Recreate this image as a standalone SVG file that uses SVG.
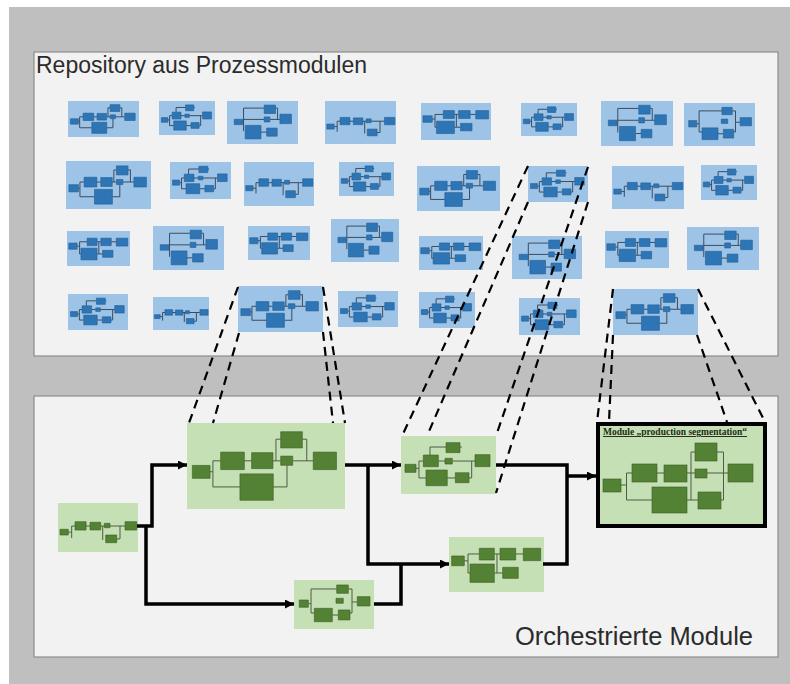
<svg xmlns="http://www.w3.org/2000/svg" xmlns:xlink="http://www.w3.org/1999/xlink" width="790" height="684" viewBox="0 0 790 684">
  <style>
    .frame { fill: #bfbfbf; }
    .panel { fill: #f2f2f2; stroke: #8c8c8c; stroke-width: 1.2; }
    .thumb { fill: #9dc3e6; }
    .gnode { fill: #c5e0b4; }
    .blue { --bx: #2e75b6; --bs: #245e94; --ln: #3e4c5e; }
    .green { --bx: #548235; --bs: #3a5c24; --ln: #4f5c47; }
    .b { fill: var(--bx); stroke: var(--bs); stroke-width: 0.6; vector-effect: non-scaling-stroke; }
    .l { fill: none; stroke: var(--ln); stroke-width: 1; vector-effect: non-scaling-stroke; }
    .gb { fill: #548235; stroke: #3a5c24; stroke-width: 0.6; }
    .gl { fill: none; stroke: #4f5c47; stroke-width: 1; }
    .conn { fill: none; stroke: #000; stroke-width: 3.5; stroke-linejoin: miter; }
    .dash { fill: none; stroke: #000; stroke-width: 2.2; stroke-dasharray: 9 6; }
    .title { font-family: "Liberation Sans", Arial, sans-serif; fill: #2b2b2b; }
    .lbl { font-family: "Liberation Serif", "Times New Roman", serif; font-weight: bold; font-size: 9.5px; fill: #1e2a14; text-decoration: underline; }
  </style>
  <defs>
    <marker id="ah" viewBox="0 0 10 10" refX="10" refY="5" markerWidth="10" markerHeight="9" markerUnits="userSpaceOnUse" orient="auto">
      <path d="M0 0L10 5L0 10z" fill="#000"/>
    </marker>
    <!-- process module layouts, drawn in a 100x60 frame -->
    <symbol id="pB" viewBox="0 0 100 60" preserveAspectRatio="none">
      <path class="l" d="M14.6 34H16.4M16.4 26.4V44.6M16.4 26.4H21.3M16.4 44.6H33.5M36.3 26.4H40.9M54.4 26.4H59.3M66.9 26.4H79.9M56.3 11.3V26.4M56.3 11.3H59.3M73 11.3H75.8V26.4M54.6 44.6H63.3V29.5"/>
      <rect class="b" x="3.4" y="29.6" width="11.2" height="9"/>
      <rect class="b" x="21.3" y="20.3" width="15" height="12.2"/>
      <rect class="b" x="40.9" y="20.7" width="13.5" height="11.1"/>
      <rect class="b" x="59.3" y="23.1" width="7.6" height="6.4"/>
      <rect class="b" x="59.3" y="6.1" width="13.7" height="11.3"/>
      <rect class="b" x="33.5" y="35.5" width="21.1" height="18.4"/>
      <rect class="b" x="79.9" y="20.3" width="14.7" height="12.2"/>
    </symbol>
    <symbol id="pC" viewBox="0 0 100 60" preserveAspectRatio="none">
      <path class="l" d="M15.8 33.4H18.9M18.9 25.9V43.4M18.9 25.9H23.5M18.9 43.4H26.3M30.5 19.7V11.4H47.4M39.3 25.9H46.3M54 25.9H77.9M74.4 25.9V43.4M48.7 43.4H57.2M71.6 43.4H74.4M62.1 11.4H64"/>
      <rect class="b" x="4.2" y="29.3" width="11.6" height="8.3"/>
      <rect class="b" x="47.4" y="6.9" width="14.7" height="10.3"/>
      <rect class="b" x="23.5" y="19.7" width="15.8" height="12.1"/>
      <rect class="b" x="46.3" y="23.1" width="7.7" height="5.9"/>
      <rect class="b" x="26.3" y="35.2" width="22.4" height="16.2"/>
      <rect class="b" x="57.2" y="38" width="14.4" height="10.3"/>
      <rect class="b" x="77.9" y="19.3" width="15.8" height="12.4"/>
    </symbol>
    <symbol id="pD" viewBox="0 0 100 60" preserveAspectRatio="none">
      <path class="l" d="M16.1 26H20M20 18.5V39.3M20 18.5H31.9M20 39.3H22.1M47.7 18.5H53.7M47.7 39.3H50.5M50.5 18.5V39.3H56.5M70.2 18.5H78.2"/>
      <rect class="b" x="2.8" y="20.7" width="13.3" height="10.6"/>
      <rect class="b" x="31.9" y="12.3" width="15.8" height="12.8"/>
      <rect class="b" x="22.1" y="29.5" width="25.6" height="20"/>
      <rect class="b" x="53.7" y="12.3" width="16.5" height="12.8"/>
      <rect class="b" x="56.5" y="33.1" width="16.4" height="12"/>
      <rect class="b" x="78.2" y="12.3" width="18.3" height="13.5"/>
    </symbol>
    <symbol id="pA" viewBox="0 0 100 60" preserveAspectRatio="none">
      <path class="l" d="M12.9 35.7H17.1M17.1 28.2H83.8M17.1 28.2V42.9M55.9 28.2V45.3M77.5 28.2V44M73.4 44H77.5"/>
      <rect class="b" x="2.5" y="32.2" width="10.4" height="7"/>
      <rect class="b" x="21.3" y="22.9" width="13.8" height="10.2"/>
      <rect class="b" x="40" y="23.6" width="13.4" height="9.4"/>
      <rect class="b" x="57.9" y="24.9" width="7.1" height="5.4"/>
      <rect class="b" x="59.6" y="39.2" width="13.8" height="9.4"/>
      <rect class="b" x="83.8" y="22.9" width="14.6" height="10.2"/>
    </symbol>
    <symbol id="pE" viewBox="0 0 100 60" preserveAspectRatio="none">
      <path class="l" d="M17.9 29H21.3M21.3 11V40.4M21.3 11H53.4M21.3 40.4H25.4M47.9 42.9H55.4M67.9 11H72.5V40.4H70M72.5 26.9H79.1"/>
      <rect class="b" x="6.6" y="24.5" width="11.3" height="8.9"/>
      <rect class="b" x="53.4" y="6.1" width="14.5" height="10.2"/>
      <rect class="b" x="52.5" y="22.4" width="9.1" height="6.1"/>
      <rect class="b" x="25.4" y="34.7" width="22.5" height="16.4"/>
      <rect class="b" x="55.4" y="36.7" width="14.6" height="12.2"/>
      <rect class="b" x="79.1" y="20.4" width="15.9" height="11.4"/>
    </symbol>
    <symbol id="pG" viewBox="0 0 100 60" preserveAspectRatio="none">
      <path class="l" d="M22.3 29.2H23.3M23.3 9.9V42M23.3 9.9H52.4M23.3 25.7H52.4M60.4 25.7H74.5M68.3 9.9H71.2V25.7M47.9 43.4H55.8"/>
      <rect class="b" x="10.2" y="25.5" width="12.1" height="7.5"/>
      <rect class="b" x="52.4" y="5.7" width="15.9" height="11.8"/>
      <rect class="b" x="52.4" y="22.2" width="8" height="7.1"/>
      <rect class="b" x="25.6" y="34" width="22.3" height="18.9"/>
      <rect class="b" x="55.8" y="37.8" width="14.9" height="11.3"/>
      <rect class="b" x="74.5" y="18.4" width="16.3" height="13.2"/>
    </symbol>
  </defs>

  <!-- background -->
  <rect width="790" height="684" fill="#ffffff"/>
  <rect class="frame" x="9" y="7" width="781" height="677"/>

  <!-- repository panel -->
  <g id="repository">
    <rect class="panel" x="34" y="52" width="744" height="304"/>
    <text class="title" x="36" y="73" font-size="23" textLength="331" lengthAdjust="spacingAndGlyphs">Repository aus Prozessmodulen</text>
    <g class="blue">
      <!-- row 1 -->
      <g id="r1m1"><rect class="thumb" x="68" y="101" width="71" height="36"/><use href="#pB" x="68" y="101" width="71" height="36"/></g>
      <g id="r1m2"><rect class="thumb" x="159" y="101" width="56" height="34"/><use href="#pC" x="159" y="101" width="56" height="34"/></g>
      <g id="r1m3"><rect class="thumb" x="227" y="101" width="71" height="43"/><use href="#pG" x="227" y="101" width="71" height="43"/></g>
      <g id="r1m4"><rect class="thumb" x="325" y="101" width="71" height="43"/><use href="#pA" x="325" y="101" width="71" height="43"/></g>
      <g id="r1m5"><rect class="thumb" x="421" y="103" width="70" height="37"/><use href="#pD" x="421" y="103" width="70" height="37"/></g>
      <g id="r1m6"><rect class="thumb" x="521" y="103" width="56" height="33"/><use href="#pC" x="521" y="103" width="56" height="33"/></g>
      <g id="r1m7"><rect class="thumb" x="601" y="101" width="72" height="45"/><use href="#pG" x="601" y="101" width="72" height="45"/></g>
      <g id="r1m8"><rect class="thumb" x="684" y="103" width="71" height="43"/><use href="#pE" x="684" y="103" width="71" height="43"/></g>
      <!-- row 2 -->
      <g id="r2m1"><rect class="thumb" x="66" y="161" width="85" height="48"/><use href="#pB" x="66" y="161" width="85" height="48"/></g>
      <g id="r2m2"><rect class="thumb" x="170" y="162" width="61" height="37"/><use href="#pC" x="170" y="162" width="61" height="37"/></g>
      <g id="r2m3"><rect class="thumb" x="244" y="162" width="70" height="44"/><use href="#pA" x="244" y="162" width="70" height="44"/></g>
      <g id="r2m4"><rect class="thumb" x="339" y="162" width="55" height="34"/><use href="#pC" x="339" y="162" width="55" height="34"/></g>
      <g id="r2m5"><rect class="thumb" x="417" y="166" width="83" height="45"/><use href="#pB" x="417" y="166" width="83" height="45"/></g>
      <g id="r2m6"><rect class="thumb" x="528" y="166" width="60" height="36"/><use href="#pC" x="528" y="166" width="60" height="36"/></g>
      <g id="r2m7"><rect class="thumb" x="612" y="166" width="72" height="43"/><use href="#pA" x="612" y="166" width="72" height="43"/></g>
      <g id="r2m8"><rect class="thumb" x="701" y="165" width="56" height="35"/><use href="#pC" x="701" y="165" width="56" height="35"/></g>
      <!-- row 3 -->
      <g id="r3m1"><rect class="thumb" x="67" y="231" width="63" height="35"/><use href="#pD" x="67" y="231" width="63" height="35"/></g>
      <g id="r3m2"><rect class="thumb" x="153" y="226" width="71" height="44"/><use href="#pG" x="153" y="226" width="71" height="44"/></g>
      <g id="r3m3"><rect class="thumb" x="248" y="226" width="62" height="34"/><use href="#pD" x="248" y="226" width="62" height="34"/></g>
      <g id="r3m4"><rect class="thumb" x="331" y="219" width="68" height="43"/><use href="#pG" x="331" y="219" width="68" height="43"/></g>
      <g id="r3m5"><rect class="thumb" x="419" y="236" width="64" height="34"/><use href="#pD" x="419" y="236" width="64" height="34"/></g>
      <g id="r3m6"><rect class="thumb" x="512" y="236" width="70" height="43"/><use href="#pG" x="512" y="236" width="70" height="43"/></g>
      <g id="r3m7"><rect class="thumb" x="605" y="231" width="64" height="37"/><use href="#pD" x="605" y="231" width="64" height="37"/></g>
      <g id="r3m8"><rect class="thumb" x="687" y="227" width="72" height="43"/><use href="#pG" x="687" y="227" width="72" height="43"/></g>
      <!-- row 4 -->
      <g id="r4m1"><rect class="thumb" x="68" y="294" width="60" height="36"/><use href="#pC" x="68" y="294" width="60" height="36"/></g>
      <g id="r4m2"><rect class="thumb" x="153" y="297" width="56" height="33"/><use href="#pA" x="153" y="297" width="56" height="33"/></g>
      <g id="r4m3"><rect class="thumb" x="238" y="286" width="85" height="46"/><use href="#pB" x="238" y="286" width="85" height="46"/></g>
      <g id="r4m4"><rect class="thumb" x="338" y="291" width="60" height="36"/><use href="#pC" x="338" y="291" width="60" height="36"/></g>
      <g id="r4m5"><rect class="thumb" x="419" y="292" width="56" height="36"/><use href="#pC" x="419" y="292" width="56" height="36"/></g>
      <g id="r4m6"><rect class="thumb" x="519" y="298" width="61" height="37"/><use href="#pC" x="519" y="298" width="61" height="37"/></g>
      <g id="r4m7"><rect class="thumb" x="613" y="289" width="85" height="46"/><use href="#pB" x="613" y="289" width="85" height="46"/></g>
    </g>
  </g>

  <!-- orchestration panel -->
  <rect class="panel" x="34" y="396" width="744" height="261"/>
  <text class="title" x="515" y="645" font-size="25" textLength="238" lengthAdjust="spacingAndGlyphs">Orchestrierte Module</text>

  <g class="green">
    <g id="modA"><rect class="gnode" x="58" y="503" width="80" height="49"/><use href="#pA" x="58" y="503" width="80" height="49"/></g>
    <g id="modB"><rect class="gnode" x="187" y="423" width="158" height="86"/><use href="#pB" x="187" y="423" width="158" height="86"/></g>
    <g id="modC"><rect class="gnode" x="401" y="436" width="95" height="58"/><use href="#pC" x="401" y="436" width="95" height="58"/></g>
    <g id="modD"><rect class="gnode" x="449" y="537" width="95" height="55"/><use href="#pD" x="449" y="537" width="95" height="55"/></g>
    <g id="modE"><rect class="gnode" x="294" y="580" width="80" height="49"/><use href="#pE" x="294" y="580" width="80" height="49"/></g>
  </g>
  <g id="modF">
    <rect class="gnode" x="598" y="424" width="167" height="102" stroke="#000" stroke-width="4"/>
    <text class="lbl" x="603" y="435" textLength="144" lengthAdjust="spacingAndGlyphs">Module „production segmentation“</text>
    <path class="gl" d="M621 485H626.5M626.5 473V500M626.5 473H632M626.5 500H652M657 473H664M687 473H695M691 452V500M691 452H695M687 500H698M707 473H723.5M717 452H723.5V500H721M723.5 473H728"/>
    <rect class="gb" x="603" y="479" width="18" height="13"/>
    <rect class="gb" x="632" y="464" width="25" height="18"/>
    <rect class="gb" x="664" y="465" width="23" height="17"/>
    <rect class="gb" x="695" y="443" width="22" height="18"/>
    <rect class="gb" x="695" y="469" width="12" height="9"/>
    <rect class="gb" x="652" y="487" width="35" height="26"/>
    <rect class="gb" x="698" y="492" width="23" height="17"/>
    <rect class="gb" x="728" y="464" width="25" height="18"/>
  </g>

  <!-- flow connectors -->
  <g id="connectors">
    <path class="conn" d="M137 526H152V465H187" marker-end="url(#ah)"/>
    <path class="conn" d="M146 526V604H294" marker-end="url(#ah)"/>
    <path class="conn" d="M345 465H401" marker-end="url(#ah)"/>
    <path class="conn" d="M368 465V564H449" marker-end="url(#ah)"/>
    <path class="conn" d="M374 604H401V564"/>
    <path class="conn" d="M496 465H567V564H543"/>
    <path class="conn" d="M567 476H596" marker-end="url(#ah)"/>
  </g>

  <!-- projection lines from repository to orchestrated modules -->
  <g id="projections">
    <path class="dash" d="M238 287L189 423"/>
    <path class="dash" d="M239 333L213 423"/>
    <path class="dash" d="M323 287L345 423"/>
    <path class="dash" d="M323 332L333 423"/>
    <path class="dash" d="M528 166L402 436"/>
    <path class="dash" d="M528 202L427 436"/>
    <path class="dash" d="M588 167L496 436"/>
    <path class="dash" d="M588 202L496 493"/>
    <path class="dash" d="M613 289L597 422"/>
    <path class="dash" d="M613 335L609 422"/>
    <path class="dash" d="M698 289L765 422"/>
    <path class="dash" d="M697 335L727 422"/>
  </g>
</svg>
